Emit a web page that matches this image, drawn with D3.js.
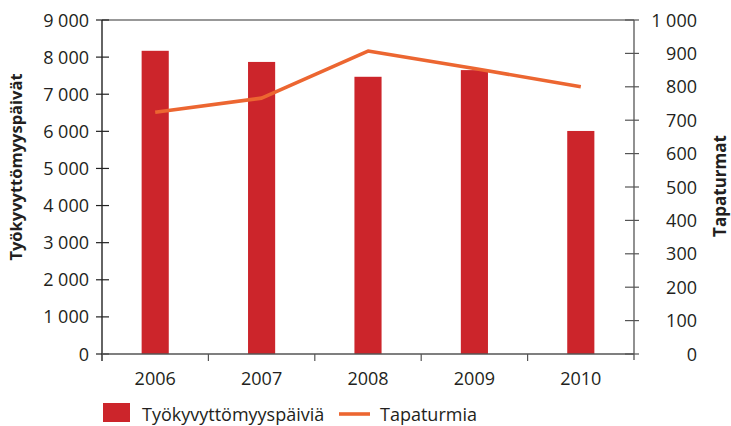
<!DOCTYPE html>
<html><head><meta charset="utf-8">
<script src="https://cdn.jsdelivr.net/npm/d3@7"></script>
<style>
body{margin:0;background:#fff;}
text{font-family:"Open Sans",sans-serif;fill:#231f20;}
</style></head>
<body><svg id="c" width="731" height="426"></svg>
<script>
const years = ["2006","2007","2008","2009","2010"];
const workDays = [8170, 7870, 7470, 7650, 6010];
const accidents = [724, 766, 907, 855, 800];
const leftTicks = [0,1000,2000,3000,4000,5000,6000,7000,8000,9000];
const rightTicks = [0,100,200,300,400,500,600,700,800,900,1000];
const seriesNames = ["Työkyvyttömyyspäiviä","Tapaturmia"];
const axisTitles = ["Työkyvyttömyyspäivät","Tapaturmat"];

const svg = d3.select("#c");
const L=102, R=634, T=20, B=354;
const barColor="#cc252b", lineColor="#ec6631";
const fmt = v => d3.format(",")(v).replace(/,/g," ");

const x = d3.scaleBand().domain(years).range([L,R]).padding(0);
const yL = d3.scaleLinear().domain([0,9000]).range([B,T]);
const yR = d3.scaleLinear().domain([0,1000]).range([B,T]);
const bw = x.bandwidth()*0.255;

// top border
svg.append("line").attr("x1",L).attr("x2",R).attr("y1",T).attr("y2",T).attr("stroke","#333").attr("stroke-width",1.2);

// bars
svg.selectAll("rect.bar").data(years).join("rect").attr("class","bar")
  .attr("x",d=>x(d)+x.bandwidth()/2-bw/2).attr("width",bw)
  .attr("y",(d,i)=>yL(workDays[i])).attr("height",(d,i)=>B-yL(workDays[i]))
  .attr("fill",barColor);

// line
const line = d3.line().x((d,i)=>x(years[i])+x.bandwidth()/2).y(d=>yR(d));
svg.append("path").datum(accidents).attr("d",line).attr("fill","none")
  .attr("stroke",lineColor).attr("stroke-width",3.6).attr("stroke-linejoin","round");

// left axis
const gL = svg.append("g");
gL.append("line").attr("x1",L).attr("x2",L).attr("y1",T).attr("y2",B+7).attr("stroke","#111").attr("stroke-width",1.3);
gL.selectAll("line.t").data(leftTicks).join("line").attr("class","t")
  .attr("x1",L-6).attr("x2",L+7).attr("y1",d=>yL(d)).attr("y2",d=>yL(d)).attr("stroke","#222").attr("stroke-width",1.2);
gL.selectAll("text").data(leftTicks).join("text")
  .attr("x",89).attr("y",d=>yL(d)+6.5).attr("text-anchor","end").attr("font-size",18).text(fmt);

// right axis
const gR = svg.append("g");
gR.append("line").attr("x1",R).attr("x2",R).attr("y1",T).attr("y2",B+6).attr("stroke","#555").attr("stroke-width",1.3);
gR.selectAll("line.t").data(rightTicks).join("line").attr("class","t")
  .attr("x1",R-9).attr("x2",R+5).attr("y1",d=>yR(d)).attr("y2",d=>yR(d)).attr("stroke","#555").attr("stroke-width",1.2);
gR.selectAll("text").data(rightTicks).join("text")
  .attr("x",697).attr("y",d=>yR(d)+6.5).attr("text-anchor","end").attr("font-size",18).text(fmt);

// bottom axis
svg.append("line").attr("x1",L).attr("x2",R).attr("y1",B).attr("y2",B).attr("stroke","#555").attr("stroke-width",1.3);
svg.selectAll("line.xt").data(years.slice(1)).join("line").attr("class","xt")
  .attr("x1",d=>x(d)).attr("x2",d=>x(d)).attr("y1",B).attr("y2",B+7).attr("stroke","#555").attr("stroke-width",1.2);
svg.selectAll("text.xl").data(years).join("text").attr("class","xl")
  .attr("x",d=>x(d)+x.bandwidth()/2).attr("y",385).attr("text-anchor","middle").attr("font-size",18).text(d=>d);

// axis titles
svg.append("text").attr("transform","translate(21.5,167) rotate(-90)").attr("text-anchor","middle")
  .attr("font-size",16.5).attr("font-weight","bold").text(axisTitles[0]);
svg.append("text").attr("transform","translate(726,186) rotate(-90)").attr("text-anchor","middle")
  .attr("font-size",17).attr("font-weight","bold").text(axisTitles[1]);

// legend
svg.append("rect").attr("x",103).attr("y",403).attr("width",27).attr("height",19).attr("fill",barColor);
svg.append("text").attr("x",142).attr("y",421).attr("font-size",18).text(seriesNames[0]);
svg.append("line").attr("x1",339).attr("x2",370).attr("y1",414).attr("y2",414).attr("stroke",lineColor).attr("stroke-width",3.6);
svg.append("text").attr("x",380).attr("y",421).attr("font-size",18).text(seriesNames[1]);
</script></body></html>
